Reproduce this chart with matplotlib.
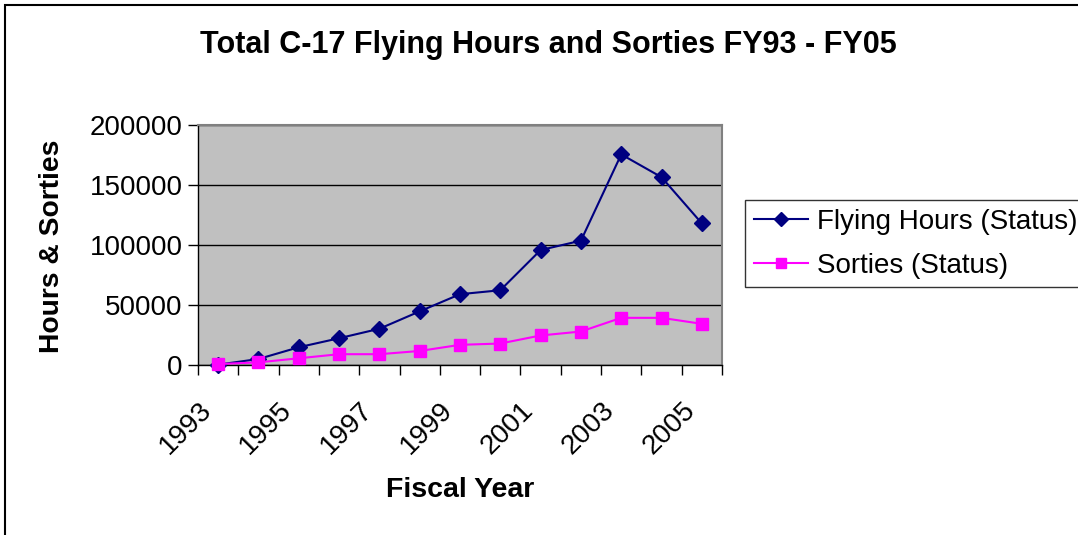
import numpy as np
import matplotlib

matplotlib.use("Agg")
import matplotlib.pyplot as plt
import matplotlib.transforms as mtransforms
from matplotlib.patches import Rectangle

plt.rcParams["font.family"] = ["Liberation Sans", "DejaVu Sans"]

# values
years = [1993, 1994, 1995, 1996, 1997, 1998, 1999, 2000, 2001, 2002, 2003, 2004, 2005]
flying_hours = [300, 5000, 14800, 22300, 30200, 44700, 59000, 62300,
                95800, 103600, 175500, 156500, 118000]
sorties = [800, 2200, 5600, 9000, 9000, 11700, 16800, 17900,
           24600, 27900, 39300, 39300, 34300]
year_labels = [str(y) if i % 2 == 0 else "" for i, y in enumerate(years)]
y_ticks = [0, 50000, 100000, 150000, 200000]

W, H = 1078, 535
fig = plt.figure(figsize=(W / 100, H / 100), dpi=100)
fig.patch.set_facecolor("white")

# outer chart border (only left and top visible in the crop)
fig.add_artist(Rectangle((5 / W, -0.1), 1.2, 1 - 5 / H + 0.1,
                         transform=fig.transFigure, fill=False,
                         edgecolor="black", lw=1.5))

ax = fig.add_axes([198 / W, (H - 365) / H, (722 - 198) / W, (365 - 125) / H])
ax.set_facecolor("#c0c0c0")

x = np.arange(len(years))
ax.plot(x, flying_hours, color="#000080", marker="D", ms=8, lw=1.5,
        label="Flying Hours (Status)", clip_on=False, zorder=3)
ax.plot(x, sorties, color="#ff00ff", marker="s", ms=8, lw=1.5,
        label="Sorties (Status)", clip_on=False, zorder=3)

ax.set_xlim(-0.5, len(years) - 0.5)
ax.set_ylim(0, 200000)

# Excel category axis: ticks between categories, labels on every other year
ax.set_xticks(np.arange(-0.5, len(years), 1.0))
ax.set_xticklabels([])
ax.set_xticks(x, minor=True)
ax.set_xticklabels(year_labels, minor=True, rotation=45, ha="right",
                   rotation_mode="anchor", fontsize=20)
ax.tick_params(axis="x", which="major", direction="out", length=7.2, width=1)
ax.tick_params(axis="x", which="minor", length=0, pad=23)
shift = mtransforms.ScaledTranslation(-0.2, 0, fig.dpi_scale_trans)
for lbl in ax.get_xticklabels(minor=True):
    lbl.set_transform(lbl.get_transform() + shift)

ax.set_yticks(y_ticks)
ax.set_yticklabels([str(v) for v in y_ticks], fontsize=20)
ax.tick_params(axis="y", direction="out", length=7, width=1, pad=4)

ax.grid(axis="y", color="black", lw=1)
ax.set_axisbelow(True)
for side in ("top", "right"):
    ax.spines[side].set_color("#808080")
    ax.spines[side].set_linewidth(1.5)
for side in ("left", "bottom"):
    ax.spines[side].set_color("black")
    ax.spines[side].set_linewidth(1)

fig.text(548 / W, 1 - 45 / H, "Total C-17 Flying Hours and Sorties FY93 - FY05",
         ha="center", va="center", fontsize=22, fontweight="bold")
fig.text(52 / W, 1 - 246 / H, "Hours & Sorties", rotation=90, ha="center",
         va="center", fontsize=20.3, fontweight="bold")
fig.text(460 / W, 1 - 490 / H, "Fiscal Year", ha="center", va="center",
         fontsize=20.5, fontweight="bold")

leg = fig.legend(loc="upper left", bbox_to_anchor=(745 / W, 1 - 200 / H),
                 borderaxespad=0, fontsize=20, frameon=True, fancybox=False,
                 handlelength=1.95, handletextpad=0.33, borderpad=0.31,
                 labelspacing=0.65, markerscale=0.85)
leg.get_frame().set_edgecolor("black")
leg.get_frame().set_linewidth(1)

fig.savefig("out.png", dpi=100)
